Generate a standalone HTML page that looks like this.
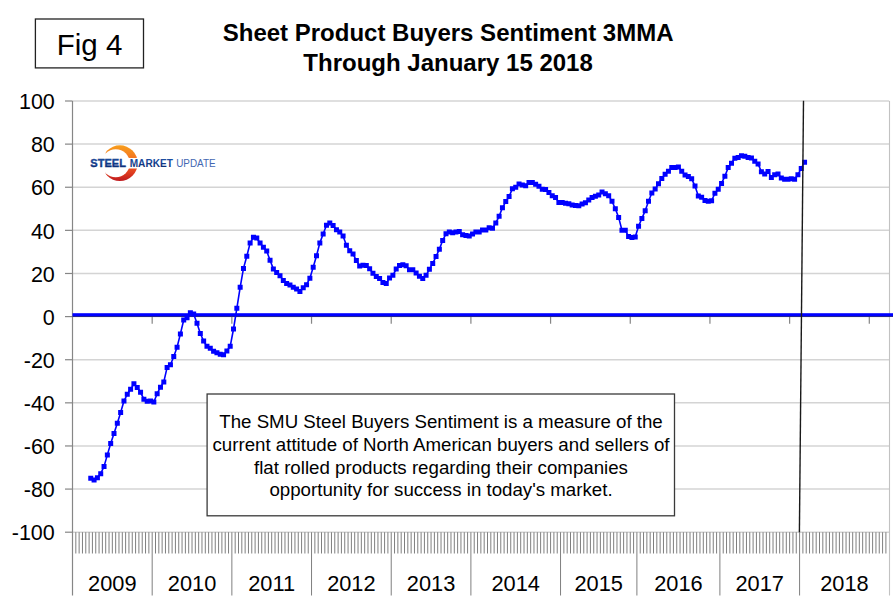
<!DOCTYPE html>
<html><head><meta charset="utf-8"><style>
html,body{margin:0;padding:0;background:#fff;}
body{width:893px;height:608px;position:relative;overflow:hidden;font-family:"Liberation Sans",Arial,sans-serif;}
svg text{font-family:"Liberation Sans",Arial,sans-serif;}
</style></head><body>
<svg width="893" height="608" viewBox="0 0 893 608" style="position:absolute;left:0;top:0">
<line x1="72.5" y1="101.00" x2="889.22" y2="101.00" stroke="#d4d4d4" stroke-width="1.5"/>
<line x1="65" y1="101.00" x2="72.5" y2="101.00" stroke="#868686" stroke-width="1.2"/>
<line x1="72.5" y1="144.12" x2="889.22" y2="144.12" stroke="#d4d4d4" stroke-width="1.5"/>
<line x1="65" y1="144.12" x2="72.5" y2="144.12" stroke="#868686" stroke-width="1.2"/>
<line x1="72.5" y1="187.24" x2="889.22" y2="187.24" stroke="#d4d4d4" stroke-width="1.5"/>
<line x1="65" y1="187.24" x2="72.5" y2="187.24" stroke="#868686" stroke-width="1.2"/>
<line x1="72.5" y1="230.36" x2="889.22" y2="230.36" stroke="#d4d4d4" stroke-width="1.5"/>
<line x1="65" y1="230.36" x2="72.5" y2="230.36" stroke="#868686" stroke-width="1.2"/>
<line x1="72.5" y1="273.48" x2="889.22" y2="273.48" stroke="#d4d4d4" stroke-width="1.5"/>
<line x1="65" y1="273.48" x2="72.5" y2="273.48" stroke="#868686" stroke-width="1.2"/>
<line x1="72.5" y1="316.60" x2="889.22" y2="316.60" stroke="#d4d4d4" stroke-width="1.5"/>
<line x1="65" y1="316.60" x2="72.5" y2="316.60" stroke="#868686" stroke-width="1.2"/>
<line x1="72.5" y1="359.72" x2="889.22" y2="359.72" stroke="#d4d4d4" stroke-width="1.5"/>
<line x1="65" y1="359.72" x2="72.5" y2="359.72" stroke="#868686" stroke-width="1.2"/>
<line x1="72.5" y1="402.84" x2="889.22" y2="402.84" stroke="#d4d4d4" stroke-width="1.5"/>
<line x1="65" y1="402.84" x2="72.5" y2="402.84" stroke="#868686" stroke-width="1.2"/>
<line x1="72.5" y1="445.96" x2="889.22" y2="445.96" stroke="#d4d4d4" stroke-width="1.5"/>
<line x1="65" y1="445.96" x2="72.5" y2="445.96" stroke="#868686" stroke-width="1.2"/>
<line x1="72.5" y1="489.08" x2="889.22" y2="489.08" stroke="#d4d4d4" stroke-width="1.5"/>
<line x1="65" y1="489.08" x2="72.5" y2="489.08" stroke="#868686" stroke-width="1.2"/>
<line x1="72.5" y1="532.20" x2="889.22" y2="532.20" stroke="#d4d4d4" stroke-width="1.5"/>
<line x1="65" y1="532.20" x2="72.5" y2="532.20" stroke="#868686" stroke-width="1.2"/>
<path d="M75.82 532.20V553.5M79.14 532.20V553.5M82.46 532.20V553.5M85.78 532.20V553.5M89.10 532.20V553.5M92.42 532.20V553.5M95.74 532.20V553.5M99.06 532.20V553.5M102.38 532.20V553.5M105.70 532.20V553.5M109.02 532.20V553.5M112.34 532.20V553.5M115.66 532.20V553.5M118.98 532.20V553.5M122.30 532.20V553.5M125.62 532.20V553.5M128.94 532.20V553.5M132.26 532.20V553.5M135.58 532.20V553.5M138.90 532.20V553.5M142.22 532.20V553.5M145.54 532.20V553.5M148.86 532.20V553.5M155.50 532.20V553.5M158.82 532.20V553.5M162.14 532.20V553.5M165.46 532.20V553.5M168.78 532.20V553.5M172.10 532.20V553.5M175.42 532.20V553.5M178.74 532.20V553.5M182.06 532.20V553.5M185.38 532.20V553.5M188.70 532.20V553.5M192.02 532.20V553.5M195.34 532.20V553.5M198.66 532.20V553.5M201.98 532.20V553.5M205.30 532.20V553.5M208.62 532.20V553.5M211.94 532.20V553.5M215.26 532.20V553.5M218.58 532.20V553.5M221.90 532.20V553.5M225.22 532.20V553.5M228.54 532.20V553.5M235.18 532.20V553.5M238.50 532.20V553.5M241.82 532.20V553.5M245.14 532.20V553.5M248.46 532.20V553.5M251.78 532.20V553.5M255.10 532.20V553.5M258.42 532.20V553.5M261.74 532.20V553.5M265.06 532.20V553.5M268.38 532.20V553.5M271.70 532.20V553.5M275.02 532.20V553.5M278.34 532.20V553.5M281.66 532.20V553.5M284.98 532.20V553.5M288.30 532.20V553.5M291.62 532.20V553.5M294.94 532.20V553.5M298.26 532.20V553.5M301.58 532.20V553.5M304.90 532.20V553.5M308.22 532.20V553.5M314.86 532.20V553.5M318.18 532.20V553.5M321.50 532.20V553.5M324.82 532.20V553.5M328.14 532.20V553.5M331.46 532.20V553.5M334.78 532.20V553.5M338.10 532.20V553.5M341.42 532.20V553.5M344.74 532.20V553.5M348.06 532.20V553.5M351.38 532.20V553.5M354.70 532.20V553.5M358.02 532.20V553.5M361.34 532.20V553.5M364.66 532.20V553.5M367.98 532.20V553.5M371.30 532.20V553.5M374.62 532.20V553.5M377.94 532.20V553.5M381.26 532.20V553.5M384.58 532.20V553.5M387.90 532.20V553.5M394.54 532.20V553.5M397.86 532.20V553.5M401.18 532.20V553.5M404.50 532.20V553.5M407.82 532.20V553.5M411.14 532.20V553.5M414.46 532.20V553.5M417.78 532.20V553.5M421.10 532.20V553.5M424.42 532.20V553.5M427.74 532.20V553.5M431.06 532.20V553.5M434.38 532.20V553.5M437.70 532.20V553.5M441.02 532.20V553.5M444.34 532.20V553.5M447.66 532.20V553.5M450.98 532.20V553.5M454.30 532.20V553.5M457.62 532.20V553.5M460.94 532.20V553.5M464.26 532.20V553.5M467.58 532.20V553.5M474.22 532.20V553.5M477.54 532.20V553.5M480.86 532.20V553.5M484.18 532.20V553.5M487.50 532.20V553.5M490.82 532.20V553.5M494.14 532.20V553.5M497.46 532.20V553.5M500.78 532.20V553.5M504.10 532.20V553.5M507.42 532.20V553.5M510.74 532.20V553.5M514.06 532.20V553.5M517.38 532.20V553.5M520.70 532.20V553.5M524.02 532.20V553.5M527.34 532.20V553.5M530.66 532.20V553.5M533.98 532.20V553.5M537.30 532.20V553.5M540.62 532.20V553.5M543.94 532.20V553.5M547.26 532.20V553.5M550.58 532.20V553.5M553.90 532.20V553.5M557.22 532.20V553.5M563.86 532.20V553.5M567.18 532.20V553.5M570.50 532.20V553.5M573.82 532.20V553.5M577.14 532.20V553.5M580.46 532.20V553.5M583.78 532.20V553.5M587.10 532.20V553.5M590.42 532.20V553.5M593.74 532.20V553.5M597.06 532.20V553.5M600.38 532.20V553.5M603.70 532.20V553.5M607.02 532.20V553.5M610.34 532.20V553.5M613.66 532.20V553.5M616.98 532.20V553.5M620.30 532.20V553.5M623.62 532.20V553.5M626.94 532.20V553.5M630.26 532.20V553.5M633.58 532.20V553.5M640.22 532.20V553.5M643.54 532.20V553.5M646.86 532.20V553.5M650.18 532.20V553.5M653.50 532.20V553.5M656.82 532.20V553.5M660.14 532.20V553.5M663.46 532.20V553.5M666.78 532.20V553.5M670.10 532.20V553.5M673.42 532.20V553.5M676.74 532.20V553.5M680.06 532.20V553.5M683.38 532.20V553.5M686.70 532.20V553.5M690.02 532.20V553.5M693.34 532.20V553.5M696.66 532.20V553.5M699.98 532.20V553.5M703.30 532.20V553.5M706.62 532.20V553.5M709.94 532.20V553.5M713.26 532.20V553.5M716.58 532.20V553.5M723.22 532.20V553.5M726.54 532.20V553.5M729.86 532.20V553.5M733.18 532.20V553.5M736.50 532.20V553.5M739.82 532.20V553.5M743.14 532.20V553.5M746.46 532.20V553.5M749.78 532.20V553.5M753.10 532.20V553.5M756.42 532.20V553.5M759.74 532.20V553.5M763.06 532.20V553.5M766.38 532.20V553.5M769.70 532.20V553.5M773.02 532.20V553.5M776.34 532.20V553.5M779.66 532.20V553.5M782.98 532.20V553.5M786.30 532.20V553.5M789.62 532.20V553.5M792.94 532.20V553.5M796.26 532.20V553.5M802.90 532.20V553.5M806.22 532.20V553.5M809.54 532.20V553.5M812.86 532.20V553.5M816.18 532.20V553.5M819.50 532.20V553.5M822.82 532.20V553.5M826.14 532.20V553.5M829.46 532.20V553.5M832.78 532.20V553.5M836.10 532.20V553.5M839.42 532.20V553.5M842.74 532.20V553.5M846.06 532.20V553.5M849.38 532.20V553.5M852.70 532.20V553.5M856.02 532.20V553.5M859.34 532.20V553.5M862.66 532.20V553.5M865.98 532.20V553.5M869.30 532.20V553.5M872.62 532.20V553.5M875.94 532.20V553.5M879.26 532.20V553.5M882.58 532.20V553.5M885.90 532.20V553.5" stroke="#7f7f7f" stroke-width="1.0" fill="none"/>
<path d="M152.18 532.20V595.5M231.86 532.20V595.5M311.54 532.20V595.5M391.22 532.20V595.5M470.90 532.20V595.5M560.54 532.20V595.5M636.90 532.20V595.5M719.90 532.20V595.5M799.58 532.20V595.5" stroke="#7f7f7f" stroke-width="1.0" fill="none"/>
<line x1="889.5" y1="101.00" x2="889.5" y2="595.5" stroke="#c2c2c2" stroke-width="1.1"/>
<line x1="72.5" y1="101.00" x2="72.5" y2="595.5" stroke="#868686" stroke-width="1.2"/>
<path d="M152.18 316.6V323.7M231.86 316.6V323.7M311.54 316.6V323.7M391.22 316.6V323.7M470.90 316.6V323.7M550.58 316.6V323.7M630.26 316.6V323.7M709.94 316.6V323.7M789.62 316.6V323.7M869.30 316.6V323.7" stroke="#868686" stroke-width="1.2" fill="none"/>
<rect x="72.5" y="313.2" width="820.5" height="3.2" fill="#0000ff"/><rect x="72.5" y="316.1" width="820.5" height="0.9" fill="#1a1a88"/>
<polyline points="90.76,478.2 94.08,480.0 97.40,477.7 100.72,473.7 104.04,466.4 107.36,454.9 110.68,443.5 114.00,433.6 117.32,423.3 120.64,412.5 123.96,401.0 127.28,394.3 130.60,389.2 133.92,383.8 137.24,387.4 140.56,392.3 143.88,399.2 147.20,401.2 150.52,401.0 153.84,402.0 157.16,393.7 160.48,387.2 163.80,381.9 167.12,367.4 170.44,364.7 173.76,356.6 177.08,347.3 180.40,333.9 183.72,320.0 187.04,317.7 190.36,312.7 193.68,314.1 197.00,323.2 200.32,333.5 203.64,341.0 206.96,346.3 210.28,348.3 213.60,351.2 216.92,352.8 220.24,354.2 223.56,354.8 226.88,351.0 230.20,346.3 233.52,329.0 236.84,308.3 240.16,287.3 243.48,268.4 246.80,256.2 250.12,243.1 253.44,237.3 256.76,238.0 260.08,243.1 263.40,247.2 266.72,251.1 270.04,260.3 273.36,268.9 276.68,272.6 280.00,275.8 283.32,280.4 286.64,283.4 289.96,285.0 293.28,287.3 296.60,289.0 299.92,291.4 303.24,287.8 306.56,284.7 309.88,278.2 313.20,267.3 316.52,255.7 319.84,242.9 323.16,234.0 326.48,225.3 329.80,223.1 333.12,225.4 336.44,229.7 339.76,232.0 343.08,235.9 346.40,245.2 349.72,250.7 353.04,253.9 356.36,260.6 359.68,266.1 363.00,265.2 366.32,265.5 369.64,268.8 372.96,273.3 376.28,276.5 379.60,278.6 382.92,282.5 386.24,283.4 389.56,277.9 392.88,275.3 396.20,269.1 399.52,265.4 402.84,264.7 406.16,265.8 409.48,269.7 412.80,269.7 416.12,272.9 419.44,276.3 422.76,278.6 426.08,275.3 429.40,269.3 432.72,263.4 436.04,256.6 439.36,249.2 442.68,240.4 446.00,233.8 449.32,232.1 452.64,232.7 455.96,232.0 459.28,231.6 462.60,234.7 465.92,235.4 469.24,236.1 472.56,233.9 475.88,232.1 479.20,232.1 482.52,230.1 485.84,230.0 489.16,227.8 492.48,228.3 495.80,222.9 499.12,216.3 502.44,207.8 505.76,201.6 509.08,196.6 512.40,188.7 515.72,187.2 519.04,184.0 522.36,185.0 525.68,185.7 529.00,182.4 532.32,182.6 535.64,184.3 538.96,186.3 542.28,189.2 545.60,189.6 548.92,192.6 552.24,195.8 555.56,197.5 558.88,202.4 562.20,202.4 565.52,203.2 568.84,203.7 572.16,205.0 575.48,205.4 578.80,205.8 582.12,204.1 585.44,202.8 588.76,200.0 592.08,197.6 595.40,196.3 598.72,195.0 602.04,192.1 605.36,193.7 608.68,195.7 612.00,201.3 615.32,208.8 618.64,217.4 621.96,230.3 625.28,230.3 628.60,236.4 631.92,237.4 635.24,237.1 638.56,226.3 641.88,218.4 645.20,210.8 648.52,201.3 651.84,193.0 655.16,189.1 658.48,183.8 661.80,178.5 665.12,174.2 668.44,171.3 671.76,167.4 675.08,167.4 678.40,167.0 681.72,171.3 685.04,174.9 688.36,176.6 691.68,178.8 695.00,186.1 698.32,195.9 701.64,197.2 704.96,200.5 708.28,201.2 711.60,200.8 714.92,193.3 718.24,189.3 721.56,183.4 724.88,176.2 728.20,167.6 731.52,163.3 734.84,158.3 738.16,157.4 741.48,155.7 744.80,156.3 748.12,157.6 751.44,157.9 754.76,161.3 758.08,163.9 761.40,171.8 764.72,174.1 768.04,171.4 771.36,177.4 774.68,174.7 778.00,174.1 781.32,178.0 784.64,179.3 787.96,179.3 791.28,178.7 794.60,179.3 797.92,174.7 801.24,168.4 804.56,162.2" fill="none" stroke="#0000ff" stroke-width="1.6" stroke-linejoin="round"/>
<path d="M88.26 475.7h5v5h-5zM91.58 477.5h5v5h-5zM94.90 475.2h5v5h-5zM98.22 471.2h5v5h-5zM101.54 463.9h5v5h-5zM104.86 452.4h5v5h-5zM108.18 441.0h5v5h-5zM111.50 431.1h5v5h-5zM114.82 420.8h5v5h-5zM118.14 410.0h5v5h-5zM121.46 398.5h5v5h-5zM124.78 391.8h5v5h-5zM128.10 386.7h5v5h-5zM131.42 381.3h5v5h-5zM134.74 384.9h5v5h-5zM138.06 389.8h5v5h-5zM141.38 396.7h5v5h-5zM144.70 398.7h5v5h-5zM148.02 398.5h5v5h-5zM151.34 399.5h5v5h-5zM154.66 391.2h5v5h-5zM157.98 384.7h5v5h-5zM161.30 379.4h5v5h-5zM164.62 364.9h5v5h-5zM167.94 362.2h5v5h-5zM171.26 354.1h5v5h-5zM174.58 344.8h5v5h-5zM177.90 331.4h5v5h-5zM181.22 317.5h5v5h-5zM184.54 315.2h5v5h-5zM187.86 310.2h5v5h-5zM191.18 311.6h5v5h-5zM194.50 320.7h5v5h-5zM197.82 331.0h5v5h-5zM201.14 338.5h5v5h-5zM204.46 343.8h5v5h-5zM207.78 345.8h5v5h-5zM211.10 348.7h5v5h-5zM214.42 350.3h5v5h-5zM217.74 351.7h5v5h-5zM221.06 352.3h5v5h-5zM224.38 348.5h5v5h-5zM227.70 343.8h5v5h-5zM231.02 326.5h5v5h-5zM234.34 305.8h5v5h-5zM237.66 284.8h5v5h-5zM240.98 265.9h5v5h-5zM244.30 253.7h5v5h-5zM247.62 240.6h5v5h-5zM250.94 234.8h5v5h-5zM254.26 235.5h5v5h-5zM257.58 240.6h5v5h-5zM260.90 244.7h5v5h-5zM264.22 248.6h5v5h-5zM267.54 257.8h5v5h-5zM270.86 266.4h5v5h-5zM274.18 270.1h5v5h-5zM277.50 273.3h5v5h-5zM280.82 277.9h5v5h-5zM284.14 280.9h5v5h-5zM287.46 282.5h5v5h-5zM290.78 284.8h5v5h-5zM294.10 286.5h5v5h-5zM297.42 288.9h5v5h-5zM300.74 285.3h5v5h-5zM304.06 282.2h5v5h-5zM307.38 275.7h5v5h-5zM310.70 264.8h5v5h-5zM314.02 253.2h5v5h-5zM317.34 240.4h5v5h-5zM320.66 231.5h5v5h-5zM323.98 222.8h5v5h-5zM327.30 220.6h5v5h-5zM330.62 222.9h5v5h-5zM333.94 227.2h5v5h-5zM337.26 229.5h5v5h-5zM340.58 233.4h5v5h-5zM343.90 242.7h5v5h-5zM347.22 248.2h5v5h-5zM350.54 251.4h5v5h-5zM353.86 258.1h5v5h-5zM357.18 263.6h5v5h-5zM360.50 262.7h5v5h-5zM363.82 263.0h5v5h-5zM367.14 266.3h5v5h-5zM370.46 270.8h5v5h-5zM373.78 274.0h5v5h-5zM377.10 276.1h5v5h-5zM380.42 280.0h5v5h-5zM383.74 280.9h5v5h-5zM387.06 275.4h5v5h-5zM390.38 272.8h5v5h-5zM393.70 266.6h5v5h-5zM397.02 262.9h5v5h-5zM400.34 262.2h5v5h-5zM403.66 263.3h5v5h-5zM406.98 267.2h5v5h-5zM410.30 267.2h5v5h-5zM413.62 270.4h5v5h-5zM416.94 273.8h5v5h-5zM420.26 276.1h5v5h-5zM423.58 272.8h5v5h-5zM426.90 266.8h5v5h-5zM430.22 260.9h5v5h-5zM433.54 254.1h5v5h-5zM436.86 246.7h5v5h-5zM440.18 237.9h5v5h-5zM443.50 231.3h5v5h-5zM446.82 229.6h5v5h-5zM450.14 230.2h5v5h-5zM453.46 229.5h5v5h-5zM456.78 229.1h5v5h-5zM460.10 232.2h5v5h-5zM463.42 232.9h5v5h-5zM466.74 233.6h5v5h-5zM470.06 231.4h5v5h-5zM473.38 229.6h5v5h-5zM476.70 229.6h5v5h-5zM480.02 227.6h5v5h-5zM483.34 227.5h5v5h-5zM486.66 225.3h5v5h-5zM489.98 225.8h5v5h-5zM493.30 220.4h5v5h-5zM496.62 213.8h5v5h-5zM499.94 205.3h5v5h-5zM503.26 199.1h5v5h-5zM506.58 194.1h5v5h-5zM509.90 186.2h5v5h-5zM513.22 184.7h5v5h-5zM516.54 181.5h5v5h-5zM519.86 182.5h5v5h-5zM523.18 183.2h5v5h-5zM526.50 179.9h5v5h-5zM529.82 180.1h5v5h-5zM533.14 181.8h5v5h-5zM536.46 183.8h5v5h-5zM539.78 186.7h5v5h-5zM543.10 187.1h5v5h-5zM546.42 190.1h5v5h-5zM549.74 193.3h5v5h-5zM553.06 195.0h5v5h-5zM556.38 199.9h5v5h-5zM559.70 199.9h5v5h-5zM563.02 200.7h5v5h-5zM566.34 201.2h5v5h-5zM569.66 202.5h5v5h-5zM572.98 202.9h5v5h-5zM576.30 203.3h5v5h-5zM579.62 201.6h5v5h-5zM582.94 200.3h5v5h-5zM586.26 197.5h5v5h-5zM589.58 195.1h5v5h-5zM592.90 193.8h5v5h-5zM596.22 192.5h5v5h-5zM599.54 189.6h5v5h-5zM602.86 191.2h5v5h-5zM606.18 193.2h5v5h-5zM609.50 198.8h5v5h-5zM612.82 206.3h5v5h-5zM616.14 214.9h5v5h-5zM619.46 227.8h5v5h-5zM622.78 227.8h5v5h-5zM626.10 233.9h5v5h-5zM629.42 234.9h5v5h-5zM632.74 234.6h5v5h-5zM636.06 223.8h5v5h-5zM639.38 215.9h5v5h-5zM642.70 208.3h5v5h-5zM646.02 198.8h5v5h-5zM649.34 190.5h5v5h-5zM652.66 186.6h5v5h-5zM655.98 181.3h5v5h-5zM659.30 176.0h5v5h-5zM662.62 171.7h5v5h-5zM665.94 168.8h5v5h-5zM669.26 164.9h5v5h-5zM672.58 164.9h5v5h-5zM675.90 164.5h5v5h-5zM679.22 168.8h5v5h-5zM682.54 172.4h5v5h-5zM685.86 174.1h5v5h-5zM689.18 176.3h5v5h-5zM692.50 183.6h5v5h-5zM695.82 193.4h5v5h-5zM699.14 194.7h5v5h-5zM702.46 198.0h5v5h-5zM705.78 198.7h5v5h-5zM709.10 198.3h5v5h-5zM712.42 190.8h5v5h-5zM715.74 186.8h5v5h-5zM719.06 180.9h5v5h-5zM722.38 173.7h5v5h-5zM725.70 165.1h5v5h-5zM729.02 160.8h5v5h-5zM732.34 155.8h5v5h-5zM735.66 154.9h5v5h-5zM738.98 153.2h5v5h-5zM742.30 153.8h5v5h-5zM745.62 155.1h5v5h-5zM748.94 155.4h5v5h-5zM752.26 158.8h5v5h-5zM755.58 161.4h5v5h-5zM758.90 169.3h5v5h-5zM762.22 171.6h5v5h-5zM765.54 168.9h5v5h-5zM768.86 174.9h5v5h-5zM772.18 172.2h5v5h-5zM775.50 171.6h5v5h-5zM778.82 175.5h5v5h-5zM782.14 176.8h5v5h-5zM785.46 176.8h5v5h-5zM788.78 176.2h5v5h-5zM792.10 176.8h5v5h-5zM795.42 172.2h5v5h-5zM798.74 165.9h5v5h-5zM802.06 159.7h5v5h-5z" fill="#0000ff"/>
<line x1="803.5" y1="100.8" x2="799.4" y2="532.3" stroke="#1a1a1a" stroke-width="1.4"/>
<text x="54.8" y="109.20" text-anchor="end" font-size="21.5">100</text>
<text x="54.8" y="152.32" text-anchor="end" font-size="21.5">80</text>
<text x="54.8" y="195.44" text-anchor="end" font-size="21.5">60</text>
<text x="54.8" y="238.56" text-anchor="end" font-size="21.5">40</text>
<text x="54.8" y="281.68" text-anchor="end" font-size="21.5">20</text>
<text x="54.8" y="324.80" text-anchor="end" font-size="21.5">0</text>
<text x="54.8" y="367.92" text-anchor="end" font-size="21.5">-20</text>
<text x="54.8" y="411.04" text-anchor="end" font-size="21.5">-40</text>
<text x="54.8" y="454.16" text-anchor="end" font-size="21.5">-60</text>
<text x="54.8" y="497.28" text-anchor="end" font-size="21.5">-80</text>
<text x="54.8" y="540.40" text-anchor="end" font-size="21.5">-100</text>
<text x="112.34" y="590.8" text-anchor="middle" font-size="21.8">2009</text>
<text x="192.02" y="590.8" text-anchor="middle" font-size="21.8">2010</text>
<text x="271.70" y="590.8" text-anchor="middle" font-size="21.8">2011</text>
<text x="351.38" y="590.8" text-anchor="middle" font-size="21.8">2012</text>
<text x="431.06" y="590.8" text-anchor="middle" font-size="21.8">2013</text>
<text x="515.72" y="590.8" text-anchor="middle" font-size="21.8">2014</text>
<text x="598.72" y="590.8" text-anchor="middle" font-size="21.8">2015</text>
<text x="678.40" y="590.8" text-anchor="middle" font-size="21.8">2016</text>
<text x="759.74" y="590.8" text-anchor="middle" font-size="21.8">2017</text>
<text x="844.40" y="590.8" text-anchor="middle" font-size="21.8">2018</text>
<text x="448.1" y="41.3" text-anchor="middle" font-size="24" font-weight="bold">Sheet Product Buyers Sentiment 3MMA</text>
<text x="448.1" y="71.3" text-anchor="middle" font-size="24" font-weight="bold">Through January 15 2018</text>
<rect x="35.4" y="19.0" width="108.1" height="48.9" fill="none" stroke="#222" stroke-width="1.3"/>
<text x="89.5" y="54.6" text-anchor="middle" font-size="29.5">Fig 4</text>
<rect x="207.1" y="394.0" width="467.4" height="121.8" fill="#fff" stroke="#3a3a3a" stroke-width="1.3"/>
<text x="441" y="427.8" text-anchor="middle" font-size="18.7">The SMU Steel Buyers Sentiment is a measure of the</text>
<text x="441" y="450.5" text-anchor="middle" font-size="18.7">current attitude of North American buyers and sellers of</text>
<text x="441" y="473.6" text-anchor="middle" font-size="18.7">flat rolled products regarding their companies</text>
<text x="441" y="496.2" text-anchor="middle" font-size="18.7">opportunity for success in today's market.</text>
<defs><linearGradient id="lg" gradientUnits="userSpaceOnUse" x1="0" y1="145" x2="0" y2="181">
<stop offset="0" stop-color="#f8a01c"/><stop offset="0.45" stop-color="#f26b23"/><stop offset="0.75" stop-color="#e2401f"/><stop offset="1" stop-color="#bf1a1f"/></linearGradient>
<linearGradient id="tg" gradientUnits="userSpaceOnUse" x1="0" y1="159" x2="0" y2="167.5"><stop offset="0" stop-color="#1d4fa3"/><stop offset="1" stop-color="#0a2a72"/></linearGradient>
<mask id="cm"><rect x="80" y="130" width="160" height="60" fill="#fff"/><circle cx="115.75" cy="163.25" r="14.0" fill="#000"/><rect x="127" y="158" width="14" height="10.5" fill="#000"/><rect x="80" y="140" width="25.6" height="45" fill="#000"/></mask></defs>
<circle cx="119.85" cy="163.15" r="17.85" fill="url(#lg)" mask="url(#cm)"/>
<text x="90.3" y="167.1" font-size="10.8" font-weight="bold" fill="url(#tg)" stroke="#123a88" stroke-width="0.35" textLength="35.6" lengthAdjust="spacingAndGlyphs">STEEL</text>
<text x="129.7" y="167.1" font-size="10.6" font-weight="bold" fill="url(#tg)" textLength="43.2" lengthAdjust="spacingAndGlyphs">MARKET</text>
<text x="176.2" y="167.1" font-size="10.6" fill="#4467b2" textLength="39.4" lengthAdjust="spacingAndGlyphs">UPDATE</text>
</svg>
</body></html>
